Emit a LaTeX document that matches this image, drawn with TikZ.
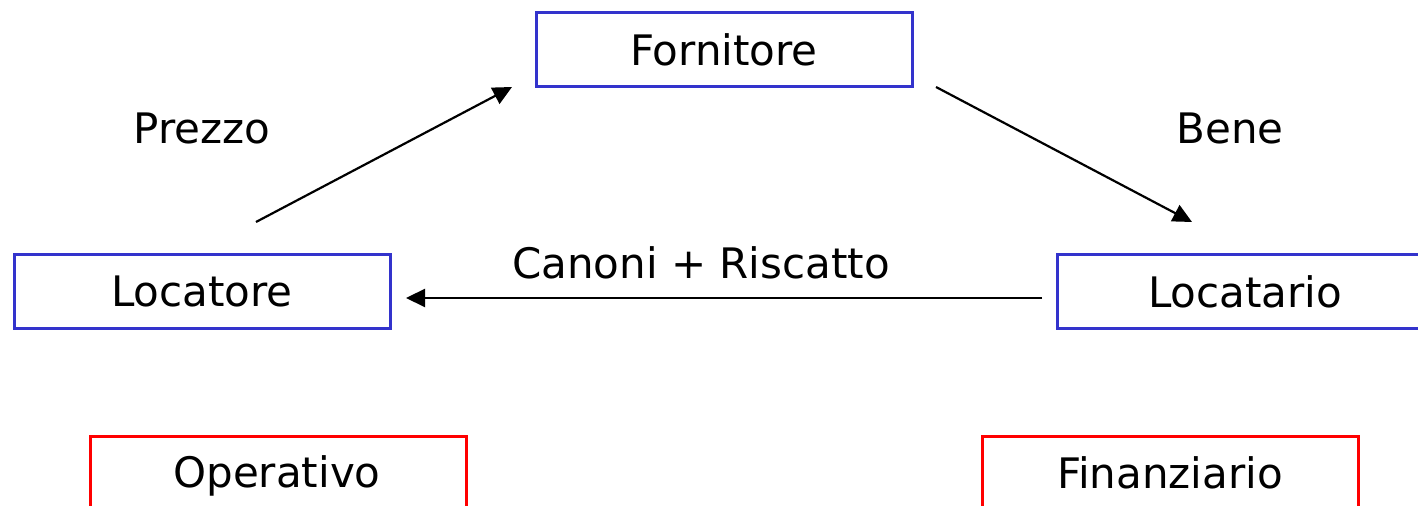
\documentclass[tikz,border=0pt]{standalone}
\usepackage{fontspec}
\setmainfont{DejaVu Sans}
\usetikzlibrary{arrows.meta}
\definecolor{boxblue}{RGB}{51,51,204}
\definecolor{boxred}{RGB}{255,0,0}
\tikzset{
  party/.style={draw=boxblue, line width=1.5pt, minimum width=188pt, minimum height=37pt, inner sep=0pt},
  kind/.style={draw=boxred, line width=1.5pt, minimum width=188pt, minimum height=74pt, inner sep=0pt},
  flow/.style={line width=1.1pt, -{Triangle[length=9.5pt,width=9pt]}},
  lbl/.style={inner sep=0pt}
}
\begin{document}
\begin{tikzpicture}[x=0.5pt,y=-0.5pt,font=\fontsize{21}{25}\selectfont]
  \clip (0,0) rectangle (1418,506);
  \fill[white] (0,0) rectangle (1418,506);

  % parties
  \node[party] (forn) at (724,49.5) {Fornitore};
  \node[party] (loca) at (202,291.5) {Locatore};
  \node[party] (latr) at (1245,291.5) {Locatario};

  % lease types (bottom row, cut by the frame)
  \node[kind, anchor=north] (oper) at (278,435) {};
  \node[kind, anchor=north] (fina) at (1170,435) {};
  \node[lbl] (operT) at (277,476) {Operativo};
  \node[lbl] (finaT) at (1170,473) {Finanziario};

  % arrow end points
  \coordinate (prS) at (256,222);
  \coordinate (prE) at (512,87);
  \coordinate (beS) at (936,87);
  \coordinate (beE) at (1192,222);
  \coordinate (caS) at (1042,298);
  \coordinate (caE) at (406,298);

  \draw[flow] (prS) -- (prE);
  \draw[flow] (beS) -- (beE);
  \draw[flow] (caS) -- (caE);

  % flow labels
  \node[lbl] (prL) at (202,128) {Prezzo};
  \node[lbl] (beL) at (1230,128) {Bene};
  \node[lbl] (caL) at (701,263) {Canoni + Riscatto};
\end{tikzpicture}
\end{document}
